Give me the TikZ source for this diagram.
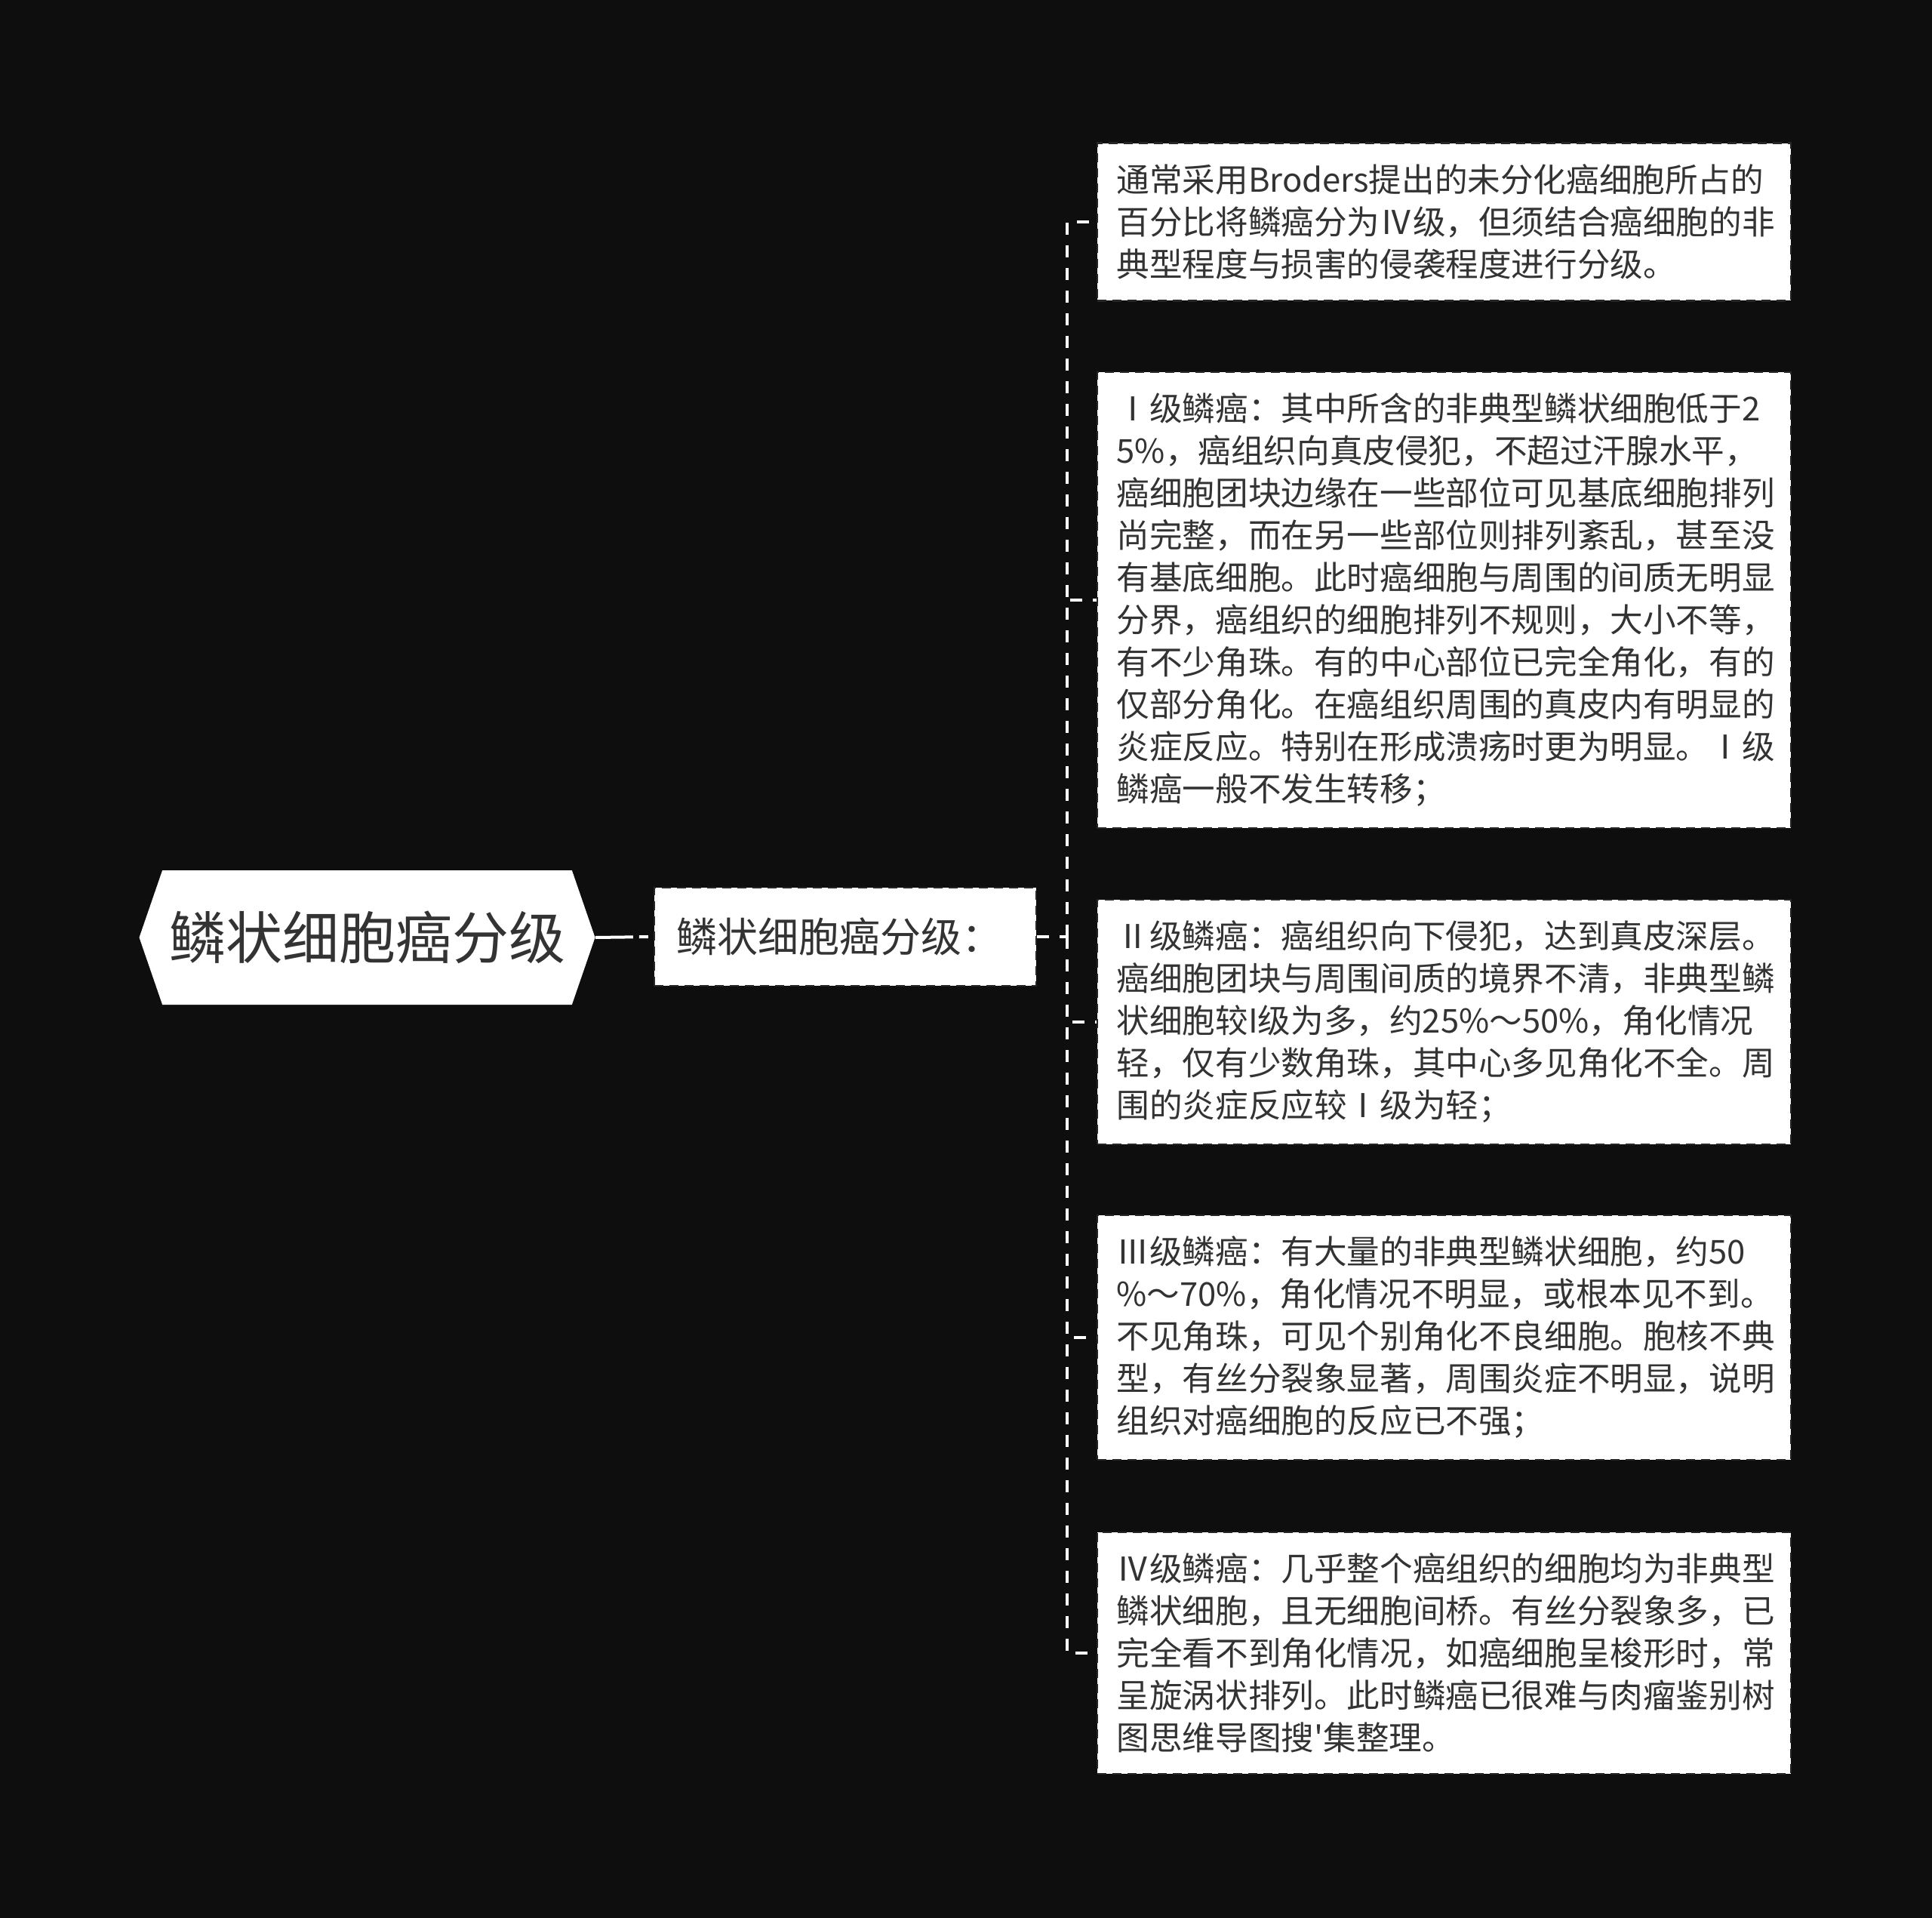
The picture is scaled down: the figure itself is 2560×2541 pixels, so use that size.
\documentclass[tikz,border=0pt]{standalone}
\usepackage{fontspec}
\setmainfont{Noto Sans CJK SC}[Ligatures=TeXOff]
\usetikzlibrary{shapes.symbols}
\definecolor{bgdark}{HTML}{0E0E0E}
\definecolor{inkgray}{HTML}{333333}
\tikzstyle{rootnode}=[signal, signal from=nowhere, signal to=east and west, signal pointer angle=142, fill=white, text=inkgray, minimum width=302pt, minimum height=89pt, inner xsep=0pt, font=\fontsize{37.5}{44}\selectfont]
\tikzstyle{midnode}=[fill=white, draw=black!85, line width=1.2pt, dash pattern=on 6pt off 4pt, text=inkgray, text width=224pt, inner xsep=14.5pt, minimum height=65pt, align=left, font=\fontsize{27}{32}\selectfont]
\tikzstyle{leafnode}=[anchor=west, fill=white, draw=black!85, line width=1.2pt, dash pattern=on 6pt off 4pt, text=inkgray, text width=434pt, inner xsep=12.75pt, inner ysep=14pt, align=left, font=\fontsize{21.8}{28}\selectfont]
\tikzstyle{link}=[draw=white, line width=2pt, dash pattern=on 8pt off 7pt]
\tikzstyle{rootlink}=[draw=white, line width=2pt, dash pattern=on 25pt off 4pt on 6pt off 4pt]

\begin{document}
\begin{tikzpicture}[x=0.5pt, y=-0.5pt]
		   \fill[bgdark] (0,0) rectangle (2560,2541);
		   \useasboundingbox (0,0) rectangle (2560,2541);
		   \begin{scope}
			   \node (root) at (486.5, 1242)[rootnode] {鳞状细胞癌分级};
			   \node (mid) at (1120, 1241)[midnode] {鳞状细胞癌分级：};
			   \coordinate (fork) at (1414, 1241);

			   \node (b1) at (1453, 294)[leafnode] {通常采用Broders提出的未分化癌细胞所占的\\百分比将鳞癌分为Ⅳ级，但须结合癌细胞的非\\典型程度与损害的侵袭程度进行分级。};
			   \node (b2) at (1453, 795)[leafnode] {Ⅰ级鳞癌：其中所含的非典型鳞状细胞低于2\\5\%，癌组织向真皮侵犯，不超过汗腺水平，\\癌细胞团块边缘在一些部位可见基底细胞排列\\尚完整，而在另一些部位则排列紊乱，甚至没\\有基底细胞。此时癌细胞与周围的间质无明显\\分界，癌组织的细胞排列不规则，大小不等，\\有不少角珠。有的中心部位已完全角化，有的\\仅部分角化。在癌组织周围的真皮内有明显的\\炎症反应。特别在形成溃疡时更为明显。Ⅰ级\\鳞癌一般不发生转移；};
			   \node (b3) at (1453, 1354)[leafnode] {Ⅱ级鳞癌：癌组织向下侵犯，达到真皮深层。\\癌细胞团块与周围间质的境界不清，非典型鳞\\状细胞较I级为多，约25\%～50\%，角化情况\\轻，仅有少数角珠，其中心多见角化不全。周\\围的炎症反应较Ⅰ级为轻；};
			   \node (b4) at (1453, 1772)[leafnode] {Ⅲ级鳞癌：有大量的非典型鳞状细胞，约50\\\%～70\%，角化情况不明显，或根本见不到。\\不见角珠，可见个别角化不良细胞。胞核不典\\型，有丝分裂象显著，周围炎症不明显，说明\\组织对癌细胞的反应已不强；};
			   \node (b5) at (1453, 2190)[leafnode] {Ⅳ级鳞癌：几乎整个癌组织的细胞均为非典型\\鳞状细胞，且无细胞间桥。有丝分裂象多，已\\完全看不到角化情况，如癌细胞呈梭形时，常\\呈旋涡状排列。此时鳞癌已很难与肉瘤鉴别树\\图思维导图搜'集整理。};
		   \end{scope}
		   \begin{scope}
			   \draw [rootlink] (root.east) -- (mid.west);
			   \draw [link] (mid.east) -- (fork);
			   \draw [link] (fork) |- (b1.west);
			   \draw [link] (fork) |- (b2.west);
			   \draw [link] (fork) |- (b3.west);
			   \draw [link] (fork) |- (b4.west);
			   \draw [link] (fork) |- (b5.west);
		   \end{scope}
\end{tikzpicture}
\end{document}
